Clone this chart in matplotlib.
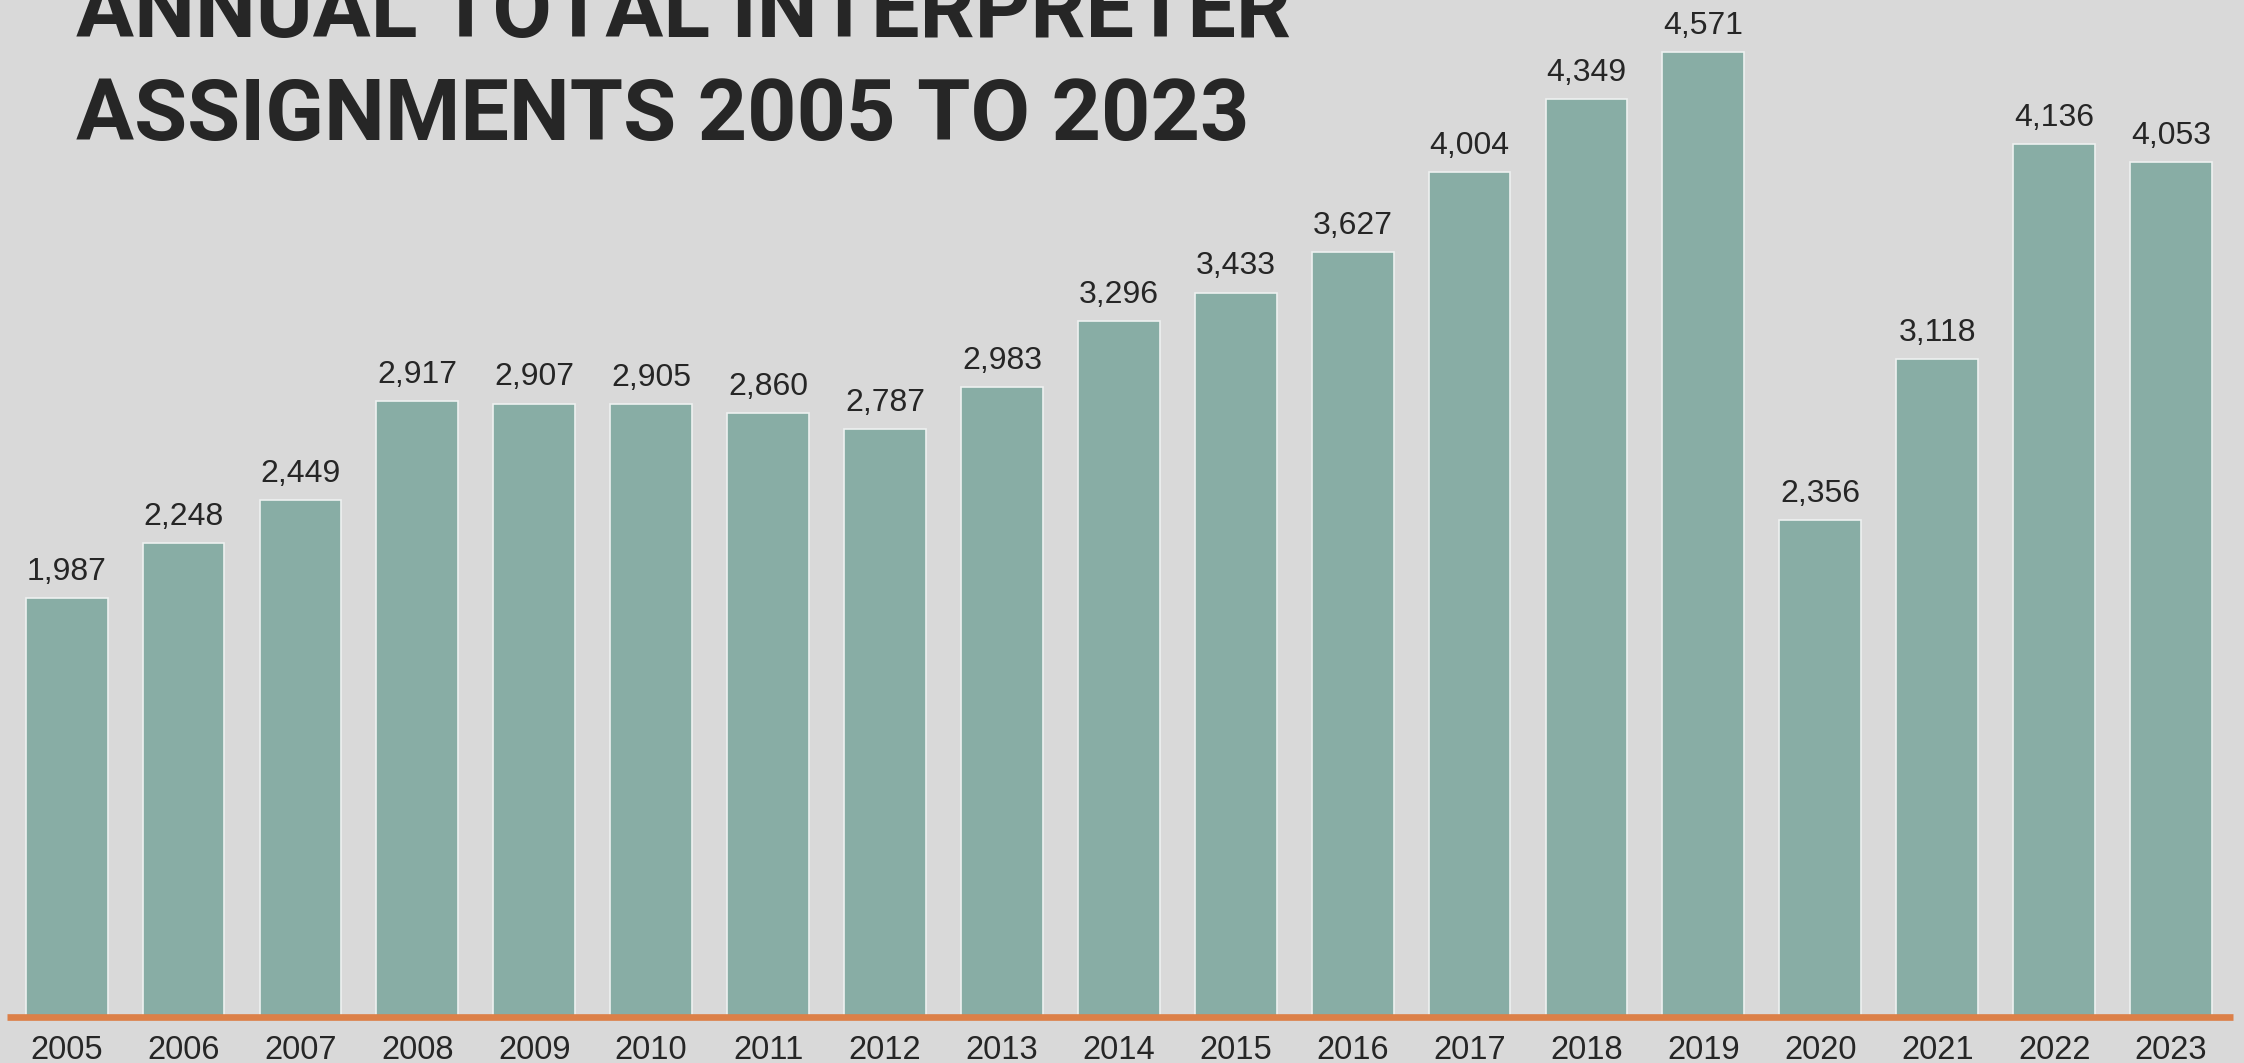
import matplotlib
matplotlib.use("Agg")
import matplotlib.pyplot as plt

years = ["2005", "2006", "2007", "2008", "2009", "2010", "2011", "2012", "2013", "2014",
         "2015", "2016", "2017", "2018", "2019", "2020", "2021", "2022", "2023"]
assignments = [1987, 2248, 2449, 2917, 2907, 2905, 2860, 2787, 2983, 3296,
               3433, 3627, 4004, 4349, 4571, 2356, 3118, 4136, 4053]
title_lines = ["ANNUAL TOTAL INTERPRETER", "ASSIGNMENTS 2005 TO 2023"]

BG = "#d9d9d9"
BAR = "#88ada5"
ORANGE = "#dc8048"
TEXT = "#262626"

title_font = "Roboto"
label_font = "Liberation Sans"

W, H, DPI = 2244, 1063, 100
fig = plt.figure(figsize=(W / DPI, H / DPI), dpi=DPI, facecolor=BG)

# axes: from orange baseline (y=1017 px) to the top edge, x from 7 px to 2233 px
ax = fig.add_axes([7 / W, 1 - 1017 / H, (2233 - 7) / W, 1017 / H])
ax.set_facecolor(BG)

x = range(len(years))
ax.bar(x, assignments, width=0.7, color=BAR, edgecolor="#eef1f0",
       linewidth=1.2, zorder=2)
ax.axhline(0, color=ORANGE, linewidth=4.8, zorder=3, clip_on=False,
           solid_capstyle="butt")

for xi, v in zip(x, assignments):
    ax.annotate(f"{v:,}", (xi, v), textcoords="offset points", xytext=(0, 13),
                ha="center", va="baseline", fontsize=23, color=TEXT,
                family=label_font)

ax.set_xlim(-0.51, 18.53)
ax.set_ylim(0, 4819)
ax.set_xticks(list(x))
ax.set_xticklabels(years, fontsize=23.5, color=TEXT, family=label_font)
ax.tick_params(axis="x", length=0, pad=13)
ax.set_yticks([])
for s in ax.spines.values():
    s.set_visible(False)

t1 = fig.text(76 / W, 1 - 37 / H, title_lines[0], ha="left", va="baseline",
              fontsize=63, fontweight="bold", color=TEXT, family=title_font)
t2 = fig.text(76 / W, 1 - 140 / H, title_lines[1], ha="left", va="baseline",
              fontsize=63, fontweight="bold", color=TEXT, family=title_font)

# fit second title line to the reference width (~1174 px)
renderer = fig.canvas.get_renderer()
w = t2.get_window_extent(renderer).width
size = 63 * 1174 / w
t1.set_fontsize(size)
t2.set_fontsize(size)

fig.savefig("out.png", dpi=DPI, facecolor=BG)
